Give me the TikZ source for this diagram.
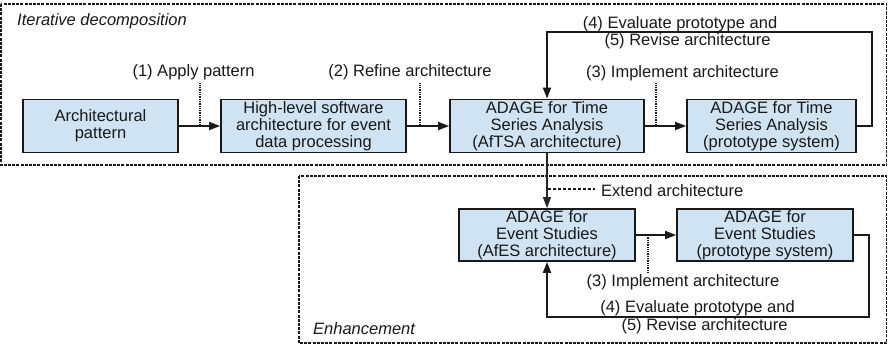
\documentclass[tikz,border=0pt]{standalone}
\usepackage{fontspec}
\setmainfont{Liberation Sans}
\usetikzlibrary{arrows.meta}
\definecolor{boxfill}{RGB}{208,227,242}
\begin{document}
\begin{tikzpicture}[x=1pt,y=-1pt,
  every node/.style={font=\fontsize{16.5}{16.8}\selectfont, inner sep=0pt, text=black!90},
  block/.style={draw=black!90, line width=1.8pt, fill=boxfill, align=center},
  flow/.style={draw=black!90, line width=1.8pt, -{Triangle[length=11pt,width=8pt]}},
  feed/.style={draw=black!85, line width=1.3pt, -{Triangle[length=11pt,width=8pt]}},
  frame/.style={draw=black!90, line width=1.3pt, dash pattern=on 3pt off 1.2pt},
  dotline/.style={draw=black!90, line width=1.4pt, dash pattern=on 1.3pt off 1pt},
  dashline/.style={draw=black!90, line width=1.4pt, dash pattern=on 3pt off 2pt},
  lbl/.style={anchor=center},
  tag/.style={anchor=west, font=\fontsize{16.5}{16.8}\selectfont\itshape}]
\useasboundingbox (0,0) rectangle (888,345);
\fill[white] (0,0) rectangle (888,345);

% phase frames
\draw[frame] (1,4) rectangle (886.5,165);
\draw[frame] (299,176) rectangle (886.5,343);
\node[tag] (t1) at (17,21) {Iterative decomposition};
\node[tag] (t2) at (313,329) {Enhancement};

% architecture artefacts
\node[block, minimum width=155pt, minimum height=53pt] (b1) at (100.5,126) {Architectural\\pattern};
\node[block, minimum width=185pt, minimum height=53pt] (b2) at (313.5,126) {High-level software\\architecture for event\\data processing};
\node[block, minimum width=194pt, minimum height=53pt] (b3) at (547,126) {ADAGE for Time\\Series Analysis\\(AfTSA architecture)};
\node[block, minimum width=169pt, minimum height=53pt] (b4) at (771.5,126) {ADAGE for Time\\Series Analysis\\(prototype system)};
\node[block, minimum width=176pt, minimum height=52pt] (b5) at (547,235) {ADAGE for\\Event Studies\\(AfES architecture)};
\node[block, minimum width=176pt, minimum height=52pt] (b6) at (765,235) {ADAGE for\\Event Studies\\(prototype system)};

% step labels
\node[lbl] (l1) at (193.5,72) {(1) Apply pattern};
\node[lbl] (l2) at (410,72) {(2) Refine architecture};
\node[lbl] (l3) at (682.5,73) {(3) Implement architecture};
\node[lbl] (l4) at (680,24) {(4) Evaluate prototype and};
\node[lbl] (l5) at (687.5,41) {(5) Revise architecture};
\node[anchor=west] (ext) at (601,191) {Extend architecture};
\node[lbl] (m3) at (683,282) {(3) Implement architecture};
\node[lbl] (m4) at (697.5,308) {(4) Evaluate prototype and};
\node[lbl] (m5) at (704.5,326) {(5) Revise architecture};

% main flow
\draw[flow] (b1) -- (b2);
\draw[flow] (b2) -- (b3);
\draw[flow] (b3) -- (b4);
\draw[flow] (b5) -- (b6);
\draw[feed] (b3.south) -- (b5.north);

% feedback loops
\coordinate (c1) at (872,32);
\coordinate (c2) at (869,317);
\draw[flow] (b4.east) -| (c1) -| (b3.north);
\draw[flow] (b6.east) -| (c2) -| (b5.south);

% label leaders
\coordinate (d1) at (200,126);
\coordinate (d2) at (420,126);
\coordinate (d3) at (656,126);
\coordinate (d4) at (648,235);
\coordinate (e0) at (548,189);
\draw[dotline] (200,82.5) -- (d1);
\draw[dotline] (420,82.5) -- (d2);
\draw[dotline] (656,82.5) -- (d3);
\draw[dotline] (d4) -- (648,272.5);
\draw[dashline] (e0) -- ([xshift=-6pt]ext.west |- e0);
\end{tikzpicture}
\end{document}
